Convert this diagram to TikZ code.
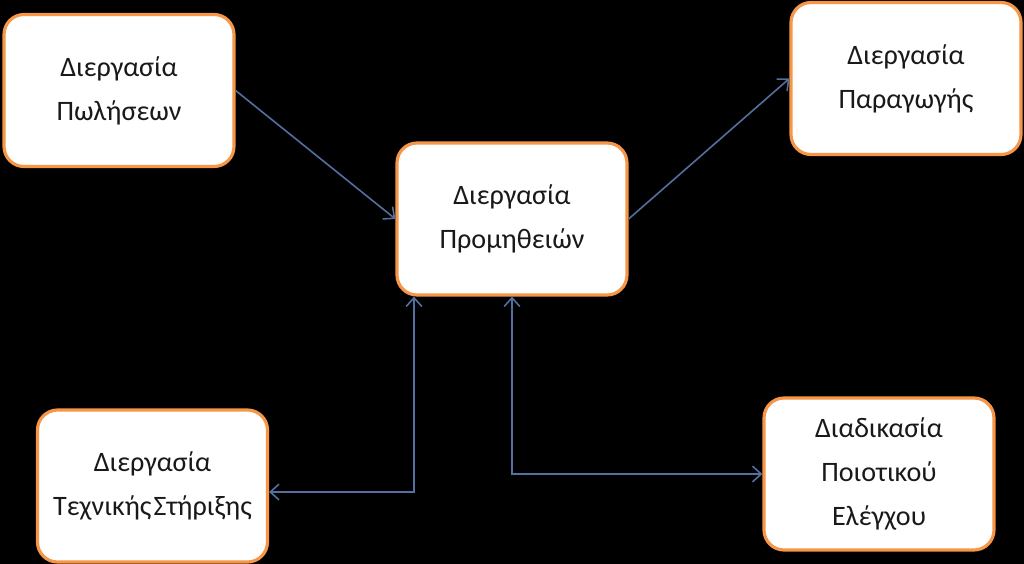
\documentclass[tikz,border=0pt]{standalone}
\usepackage{fontspec}
\setmainfont{Carlito}
\usetikzlibrary{arrows.meta}
\definecolor{boxorange}{RGB}{247,150,70}
\definecolor{linkblue}{RGB}{84,112,160}
\definecolor{textgray}{RGB}{25,25,25}

\begin{document}
\begin{tikzpicture}[>={Straight Barb[length=5pt,width=9pt]},
  every node/.style={font=\fontsize{16}{25}\selectfont, text=textgray},
  procbox/.style={draw=boxorange, line width=1.8pt, fill=white, rounded corners=0.4cm,
    minimum width=4.6cm, minimum height=3.04cm, align=center},
  link/.style={draw=linkblue, line width=0.9pt}]
  \useasboundingbox[fill=black] (0,0) rectangle (20.48,-11.28);
  \node[procbox] (sales) at (2.38,-1.81) {Διεργασία\\Πωλήσεων};
  \node[procbox] (supply) at (10.24,-4.38) {Διεργασία\\Προμηθειών};
  \node[procbox] (production) at (18.12,-1.57) {Διεργασία\\Παραγωγής};
  \node[procbox] (support) at (3.05,-9.72) {Διεργασία\\Τεχνικής\hspace{0.08em}Στήριξης};
  \node[procbox] (quality) at (17.58,-9.48) {Διαδικασία\\Ποιοτικού\\Ελέγχου};
  \draw[->,link] (sales.east) -- (supply.west);
  \draw[->,link] (supply.east) -- (production.west);
  \draw[<->,link] ([yshift=-0.12cm]support.east) -| ([xshift=-1.96cm]supply.south);
  \draw[<->,link] (supply.south) |- (quality.west);
\end{tikzpicture}
\end{document}
